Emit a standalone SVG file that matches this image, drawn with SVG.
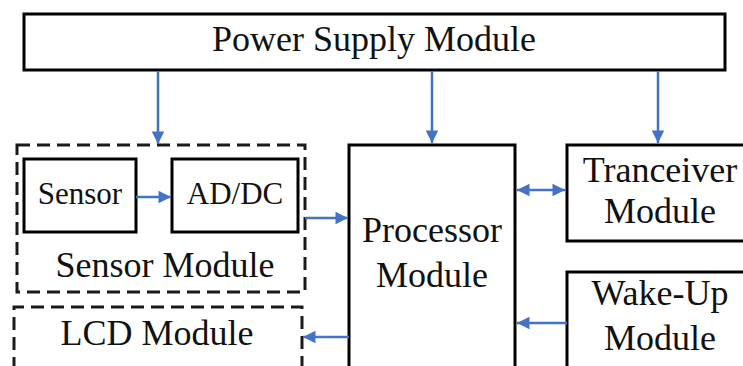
<svg xmlns="http://www.w3.org/2000/svg" width="743" height="366" viewBox="0 0 743 366">
<defs>
<style>
.box{fill:#fff;stroke:#000;stroke-width:3}
.dash{fill:none;stroke:#1a1a1a;stroke-width:3;stroke-dasharray:13 7}
.t{font-family:"Liberation Serif","Times New Roman",serif;font-size:36px;fill:#111;text-anchor:middle}
.s{font-size:31px}
.c{stroke:#4472C4;stroke-width:2.5;fill:none}
</style>
<marker id="ah" viewBox="0 0 10 10" refX="10" refY="5" markerWidth="5.5" markerHeight="5" markerUnits="strokeWidth" orient="auto-start-reverse">
<path d="M0,0 L10,5 L0,10 z" fill="#4472C4"/>
</marker>
</defs>
<rect width="743" height="366" fill="#fff"/>
<g id="power">
<rect class="box" x="24" y="14" width="701" height="56"/>
<text class="t" x="374" y="51">Power Supply Module</text>
</g>
<g id="sensor-module">
<rect class="dash" x="17" y="145" width="288" height="147"/>
<text class="t" x="165" y="277">Sensor Module</text>
</g>
<g id="sensor">
<rect class="box" x="24" y="159" width="112" height="73"/>
<text class="t s" x="80" y="204">Sensor</text>
</g>
<g id="addc">
<rect class="box" x="172" y="159" width="126" height="73"/>
<text class="t s" x="235" y="204">AD/DC</text>
</g>
<g id="lcd">
<path class="dash" d="M14,370 L14,307 L302,307 L302,370"/>
<text class="t" x="157" y="345">LCD Module</text>
</g>
<g id="processor">
<rect class="box" x="349" y="145" width="166" height="230"/>
<text class="t" x="432" y="242">Processor</text>
<text class="t" x="432" y="287">Module</text>
</g>
<g id="transceiver">
<rect class="box" x="567" y="145" width="190" height="96"/>
<text class="t" x="660" y="182">Tranceiver</text>
<text class="t" x="660" y="223">Module</text>
</g>
<g id="wakeup">
<rect class="box" x="567" y="272" width="190" height="110"/>
<text class="t" x="660" y="305">Wake-Up</text>
<text class="t" x="660" y="350">Module</text>
</g>
<g id="connectors">
<line class="c" x1="158" y1="71" x2="158" y2="144" marker-end="url(#ah)"/>
<line class="c" x1="432" y1="71" x2="432" y2="143" marker-end="url(#ah)"/>
<line class="c" x1="658" y1="71" x2="658" y2="143" marker-end="url(#ah)"/>
<line class="c" x1="136" y1="197" x2="171" y2="197" marker-end="url(#ah)"/>
<line class="c" x1="305" y1="218" x2="348" y2="218" marker-end="url(#ah)"/>
<line class="c" x1="517" y1="190" x2="565" y2="190" marker-start="url(#ah)" marker-end="url(#ah)"/>
<line class="c" x1="567" y1="323" x2="517" y2="323" marker-end="url(#ah)"/>
<line class="c" x1="349" y1="337" x2="303" y2="337" marker-end="url(#ah)"/>
</g>
</svg>
